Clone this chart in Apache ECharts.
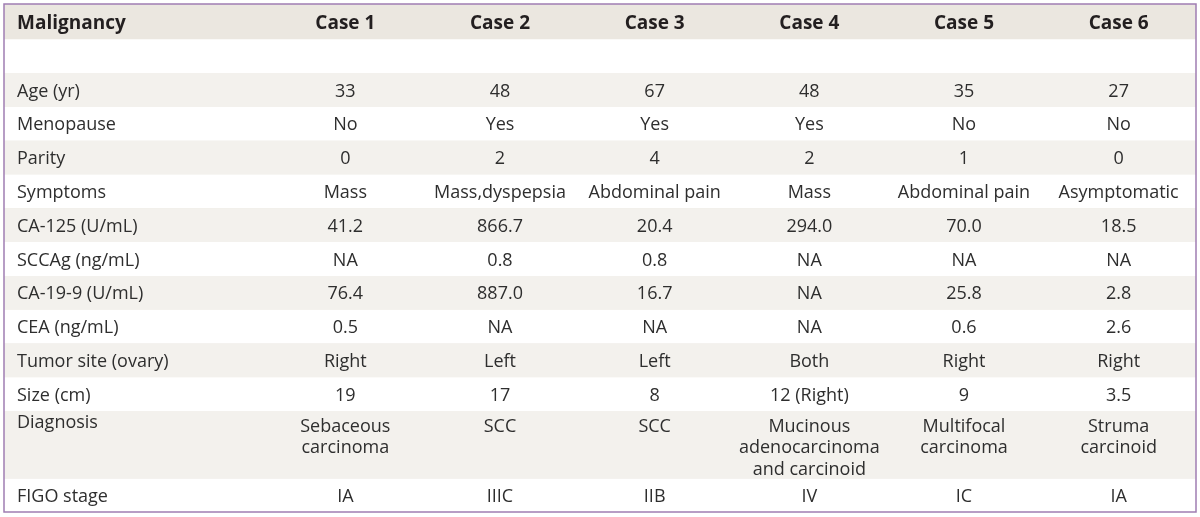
<!DOCTYPE html>
<html>
<head>
<meta charset="utf-8">
<script src="https://cdn.jsdelivr.net/npm/echarts@6/dist/echarts.min.js"></script>
<style>
html,body{margin:0;padding:0;background:#fff;}
#chart{width:1200px;height:517px;}
</style>
</head>
<body>
<div id="chart"></div>
<script>
// ---- data ----
const headerLabel = 'Malignancy';
const cases = ['Case 1', 'Case 2', 'Case 3', 'Case 4', 'Case 5', 'Case 6'];
const age = ['33', '48', '67', '48', '35', '27'];
const menopause = ['No', 'Yes', 'Yes', 'Yes', 'No', 'No'];
const parity = ['0', '2', '4', '2', '1', '0'];
const symptoms = ['Mass', 'Mass,dyspepsia', 'Abdominal pain', 'Mass', 'Abdominal pain', 'Asymptomatic'];
const ca125 = ['41.2', '866.7', '20.4', '294.0', '70.0', '18.5'];
const sccag = ['NA', '0.8', '0.8', 'NA', 'NA', 'NA'];
const ca199 = ['76.4', '887.0', '16.7', 'NA', '25.8', '2.8'];
const cea = ['0.5', 'NA', 'NA', 'NA', '0.6', '2.6'];
const tumorSite = ['Right', 'Left', 'Left', 'Both', 'Right', 'Right'];
const size = ['19', '17', '8', '12 (Right)', '9', '3.5'];
const diagnosis = ['Sebaceous\ncarcinoma', 'SCC', 'SCC', 'Mucinous\nadenocarcinoma\nand carcinoid', 'Multifocal\ncarcinoma', 'Struma\ncarcinoid'];
const figo = ['IA', 'IIIC', 'IIB', 'IV', 'IC', 'IA'];

// table rows: [row label, values, number of row units]
const tableRows = [
  [headerLabel, cases, 1],
  ['', null, 1],
  ['Age (yr)', age, 1],
  ['Menopause', menopause, 1],
  ['Parity', parity, 1],
  ['Symptoms', symptoms, 1],
  ['CA-125 (U/mL)', ca125, 1],
  ['SCCAg (ng/mL)', sccag, 1],
  ['CA-19-9 (U/mL)', ca199, 1],
  ['CEA (ng/mL)', cea, 1],
  ['Tumor site (ovary)', tumorSite, 1],
  ['Size (cm)', size, 1],
  ['Diagnosis', diagnosis, 2],
  ['FIGO stage', figo, 1]
];

// ---- build category bands (a 2-unit row occupies two bands) ----
const bandNames = [];
const cells = [];
const cellText = [];
const cellMeta = [];
const spanOfBand = {};
tableRows.forEach((row, ri) => {
  const first = bandNames.length;
  for (let k = 0; k < row[2]; k++) bandNames.push(k === 0 ? row[0] : '');
  spanOfBand[first] = row[2];
  if (row[1]) {
    row[1].forEach((v, ci) => {
      cells.push([ci, first]);
      cellText.push(v);
      cellMeta.push({ header: ri === 0, span: row[2] });
    });
  }
});
const HEADER_BG = '#ebe7e0', SHADE = '#f3f1ed', WHITE = '#ffffff';
const bandColors = [];
tableRows.forEach((row, ri) => {
  let c;
  if (ri === 0) c = HEADER_BG;
  else if (ri === 1) c = WHITE;
  else c = (ri % 2 === 0) ? SHADE : WHITE;
  for (let k = 0; k < row[2]; k++) bandColors.push(c);
});

const FONT = '"Open Sans", "Noto Sans", sans-serif';
const TEXT = '#2e2e2e';
const HEAD_TEXT = '#231f20';
const BODY_SIZE = 18;
const HEAD_SIZE = 19;

const chart = echarts.init(document.getElementById('chart'));
chart.setOption({
  animation: false,
  grid: [
    { left: 4, right: 4, top: 4, bottom: 5, show: true, backgroundColor: HEADER_BG, borderWidth: 0, z: 0 },
    { left: 4, right: 4, top: 5.5, bottom: 4.5 },
    { left: 268, right: 4, top: 5.5, bottom: 4.5 },
    { left: 4, right: 4, top: 4, bottom: 5, show: true, backgroundColor: 'transparent', borderColor: '#a07db2', borderWidth: 1.5, z: 20 }
  ],
  xAxis: [
    { gridIndex: 0, type: 'value', show: false },
    { gridIndex: 1, type: 'value', min: 0, max: 1, show: false },
    { gridIndex: 2, type: 'category', data: cases, show: false },
    { gridIndex: 3, type: 'value', show: false }
  ],
  yAxis: [
    { gridIndex: 0, type: 'value', show: false },
    {
      gridIndex: 1, type: 'category', data: bandNames, inverse: true,
      axisLine: { show: false }, axisTick: { show: false }, splitLine: { show: false },
      splitArea: { show: true, areaStyle: { color: bandColors } },
      axisLabel: {
        inside: true, margin: 13, align: 'left', interval: 0,
        formatter: function (v, i) {
          if (i === 0) return '{h|' + v + '}';
          if (spanOfBand[i] > 1) return '{t|' + v + '}';
          return '{n|' + v + '}';
        },
        rich: {
          h: { fontFamily: FONT, fontSize: HEAD_SIZE, fontWeight: 'bold', color: HEAD_TEXT, padding: [2, 0, 0, 0] },
          n: { fontFamily: FONT, fontSize: BODY_SIZE, color: TEXT, padding: [3, 0, 0, 0] },
          t: { fontFamily: FONT, fontSize: BODY_SIZE, color: TEXT, padding: [0, 0, 10, 0] }
        }
      },
      z: 5
    },
    { gridIndex: 2, type: 'category', data: bandNames, inverse: true, show: false },
    { gridIndex: 3, type: 'value', show: false }
  ],
  series: [{
    type: 'custom',
    xAxisIndex: 2, yAxisIndex: 2,
    data: cells,
    z: 6,
    renderItem: function (params, api) {
      const i = params.dataIndex;
      const meta = cellMeta[i];
      const pt = api.coord([api.value(0), api.value(1)]);
      const band = api.size([0, 1])[1];
      const multi = meta.span > 1;
      return {
        type: 'text',
        style: {
          x: pt[0],
          y: multi ? pt[1] - band / 2 + 4.5 : pt[1] + (meta.header ? 1 : 1.5),
          text: cellText[i],
          align: 'center',
          verticalAlign: multi ? 'top' : 'middle',
          lineHeight: 21.6,
          fontFamily: FONT,
          fontSize: meta.header ? HEAD_SIZE : BODY_SIZE,
          fontWeight: meta.header ? 'bold' : 'normal',
          fill: meta.header ? HEAD_TEXT : TEXT
        }
      };
    }
  }]
});
</script>
</body>
</html>
